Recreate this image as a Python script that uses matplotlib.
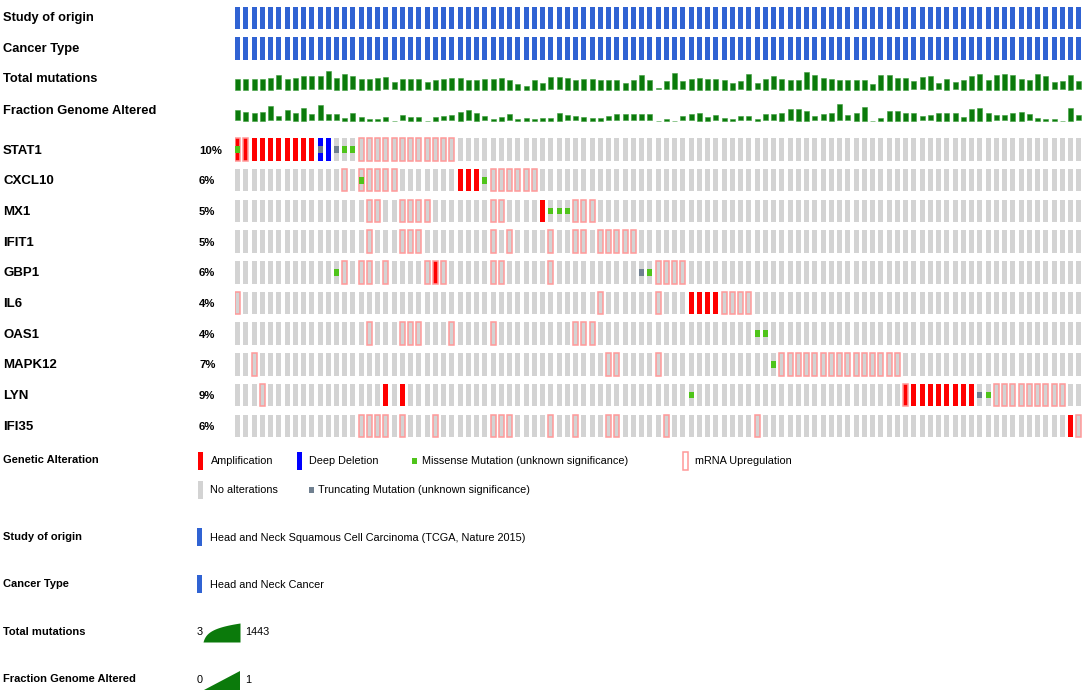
import matplotlib
matplotlib.use("Agg")
from matplotlib import pyplot as plt
from matplotlib import patches as patches
from matplotlib import font_manager
import numpy as np

plt.rcParams['font.family'] = ['Liberation Sans', 'DejaVu Sans']

genes = ["STAT1", "CXCL10", "MX1", "IFIT1", "GBP1", "IL6", "OAS1", "MAPK12", "LYN", "IFI35"]
percents = ["10%", "6%", "5%", "5%", "6%", "4%", "4%", "7%", "9%", "6%"]
n_samples = 103

# sample columns carrying each alteration, per gene
amplification = {
    "STAT1": [0, 1, 2, 3, 4, 5, 6, 7, 8, 9],
    "CXCL10": [27, 28, 29],
    "MX1": [37],
    "GBP1": [24],
    "IL6": [55, 56, 57, 58],
    "LYN": [18, 20, 81, 82, 83, 84, 85, 86, 87, 88, 89],
    "IFI35": [101],
}
deep_deletion = {
    "STAT1": [10, 11],
}
missense = {
    "STAT1": [0, 13, 14],
    "CXCL10": [15, 30],
    "MX1": [38, 39, 40],
    "GBP1": [12, 50],
    "OAS1": [63, 64],
    "MAPK12": [65],
    "LYN": [55, 91],
}
truncating = {
    "STAT1": [10, 12],
    "GBP1": [49],
    "LYN": [90],
}
mrna_up = {
    "STAT1": [0, 1, 15, 16, 17, 18, 19, 20, 21, 22, 23, 24, 25, 26],
    "CXCL10": [13, 15, 16, 17, 18, 19, 31, 32, 33, 34, 35, 36],
    "MX1": [16, 17, 20, 21, 22, 23, 31, 32, 41, 42, 43],
    "IFIT1": [16, 20, 21, 22, 31, 33, 38, 41, 42, 44, 45, 46, 47, 48],
    "GBP1": [13, 15, 16, 18, 23, 24, 25, 31, 32, 38, 51, 52, 53, 54],
    "IL6": [0, 44, 51, 59, 60, 61, 62],
    "OAS1": [16, 20, 21, 22, 26, 31, 41, 42, 43],
    "MAPK12": [2, 45, 46, 51, 66, 67, 68, 69, 70, 71, 72, 73, 74, 75, 76, 77, 78, 79, 80],
    "LYN": [3, 81, 92, 93, 94, 95, 96, 97, 98, 99, 100],
    "IFI35": [15, 16, 17, 18, 20, 24, 31, 32, 33, 38, 41, 45, 46, 52, 63, 102],
}

# clinical tracks, bar height relative to track height
total_mutations = [
    0.55, 0.55, 0.55, 0.55, 0.60, 0.73, 0.55, 0.60, 0.68, 0.68, 0.68, 0.93, 0.60, 0.77, 0.68, 0.55, 0.55,
    0.60, 0.63, 0.38, 0.55, 0.55, 0.55, 0.38, 0.50, 0.55, 0.60, 0.60, 0.50, 0.50, 0.55, 0.55, 0.60, 0.50,
    0.27, 0.17, 0.50, 0.35, 0.63, 0.63, 0.60, 0.50, 0.55, 0.55, 0.50, 0.50, 0.50, 0.35, 0.47, 0.72, 0.50,
    0.08, 0.43, 0.83, 0.43, 0.55, 0.60, 0.55, 0.55, 0.47, 0.35, 0.43, 0.80, 0.33, 0.55, 0.68, 0.55, 0.50,
    0.47, 0.88, 0.72, 0.60, 0.55, 0.50, 0.50, 0.50, 0.50, 0.27, 0.72, 0.72, 0.60, 0.60, 0.43, 0.63, 0.67,
    0.33, 0.55, 0.38, 0.50, 0.67, 0.80, 0.50, 0.72, 0.77, 0.72, 0.55, 0.50, 0.80, 0.67, 0.38, 0.43, 0.72, 0.43,
]
fraction_genome_altered = [
    0.53, 0.45, 0.40, 0.45, 0.73, 0.23, 0.53, 0.40, 0.62, 0.33, 0.78, 0.33, 0.33, 0.12, 0.40, 0.17, 0.07,
    0.07, 0.17, 0.00, 0.28, 0.17, 0.17, 0.00, 0.17, 0.23, 0.28, 0.45, 0.53, 0.37, 0.23, 0.07, 0.17, 0.33,
    0.07, 0.12, 0.07, 0.12, 0.12, 0.37, 0.28, 0.23, 0.17, 0.12, 0.12, 0.23, 0.33, 0.33, 0.33, 0.33, 0.33,
    0.00, 0.07, 0.00, 0.23, 0.33, 0.40, 0.20, 0.28, 0.12, 0.07, 0.23, 0.23, 0.07, 0.33, 0.33, 0.40, 0.58,
    0.57, 0.50, 0.23, 0.33, 0.37, 0.83, 0.28, 0.37, 0.70, 0.00, 0.12, 0.50, 0.50, 0.40, 0.37, 0.23, 0.28,
    0.37, 0.40, 0.40, 0.20, 0.57, 0.62, 0.37, 0.28, 0.28, 0.37, 0.45, 0.33, 0.12, 0.07, 0.07, 0.00, 0.62, 0.28,
]

track_labels = ["Study of origin", "Cancer Type", "Total mutations", "Fraction Genome Altered"]
study_name = "Head and Neck Squamous Cell Carcinoma (TCGA, Nature 2015)"
cancer_name = "Head and Neck Cancer"
mut_range = ["3", "1443"]
fga_range = ["0", "1"]

# colours
GREY = "#d3d3d3"
RED = "#ff0000"
BLUE = "#0000ff"
MIS_GREEN = "#4fc41a"
TRUNC = "#708090"
PINK = "#ff9999"
STUDY_BLUE = "#3063d3"
TRACK_GREEN = "#0b7a0b"

available = {f.name for f in font_manager.fontManager.ttflist}
if "Liberation Sans Narrow" in available:
    legend_font = ["Liberation Sans Narrow", "Liberation Sans"]
    legend_size = 9.2
else:
    legend_font = ["Liberation Sans", "DejaVu Sans"]
    legend_size = 7.8

fig = plt.figure(figsize=(10.84, 6.93), dpi=100)
ax = fig.add_axes([0, 0, 1, 1])
ax.set_xlim(0, 1084)
ax.set_ylim(693, 0)
ax.axis("off")

# grid axes: x in sample columns, y in pixel rows
pitch = 8.25
axg = fig.add_axes([235 / 1084, 0, n_samples * pitch / 1084, 1])
axg.set_xlim(0, n_samples)
axg.set_ylim(693, 0)
axg.axis("off")

w = 5.0 / pitch
cols = np.arange(n_samples)
cell_h = 22.5

# clinical tracks
track_centres = [18, 48.5, 79, 110]
for k, lab in enumerate(track_labels):
    ax.text(3, track_centres[k] + 0.5, lab, ha="left", va="center", fontsize=9.3, weight="bold")

axg.bar(cols, cell_h, width=w, bottom=track_centres[0] - cell_h / 2, align="edge", color=STUDY_BLUE, lw=0)
axg.bar(cols, cell_h, width=w, bottom=track_centres[1] - cell_h / 2, align="edge", color=STUDY_BLUE, lw=0)

tm = np.array(total_mutations) * 20
axg.bar(cols, tm, width=w, bottom=89.5 - tm, align="edge", color=TRACK_GREEN, ec="#3f9f3f", lw=0.4)
fg = np.array(fraction_genome_altered) * 20
axg.bar(cols, fg, width=w, bottom=120.5 - fg, align="edge", color=TRACK_GREEN, ec="#3f9f3f", lw=0.4)

# gene rows
for k, g in enumerate(genes):
    yc = 149.5 + 30.7 * k
    top = yc - cell_h / 2
    ax.text(3, yc + 1, g, ha="left", va="center", fontsize=9.5, weight="bold")
    ax.text(199, yc + 1, percents[k], ha="left", va="center", fontsize=8.2, weight="bold")
    axg.bar(cols, cell_h, width=w, bottom=top, align="edge", color=GREY, lw=0)
    if g in amplification:
        axg.bar(amplification[g], cell_h, width=w, bottom=top, align="edge", color=RED, lw=0)
    if g in deep_deletion:
        axg.bar(deep_deletion[g], cell_h, width=w, bottom=top, align="edge", color=BLUE, lw=0)
    for c in mrna_up.get(g, []):
        axg.add_patch(patches.Rectangle((c, top), w, cell_h, fill=False, ec=PINK, lw=1.1))
    sq = cell_h * 0.3
    if g in missense:
        axg.bar(missense[g], sq, width=w, bottom=yc - sq / 2, align="edge", color=MIS_GREEN, lw=0)
    if g in truncating:
        axg.bar(truncating[g], sq, width=w, bottom=yc - sq / 2, align="edge", color=TRUNC, lw=0)

# genetic alteration legend
def swatch(x, y, color, fill=True):
    if fill:
        ax.add_patch(patches.Rectangle((x, y - 9), 5, 18, fc=color, ec="none"))
    else:
        ax.add_patch(patches.Rectangle((x, y - 9), 5, 18, fill=False, ec=color, lw=1.1))

def small(x, y, color):
    ax.add_patch(patches.Rectangle((x, y - 3), 5, 6, fc=color, ec="none"))

def ltext(x, y, s):
    ax.text(x, y, s, ha="left", va="center", fontsize=legend_size, family=legend_font)

ax.text(3, 460, "Genetic Alteration", ha="left", va="center", fontsize=8.0, weight="bold")
swatch(198, 461, RED)
ltext(211, 461, "Amplification")
swatch(297, 461, BLUE)
ltext(309, 461, "Deep Deletion")
small(412, 461, MIS_GREEN)
ltext(422, 461, "Missense Mutation (unknown significance)")
swatch(683, 461, PINK, fill=False)
ltext(695, 461, "mRNA Upregulation")
swatch(198, 490, GREY)
ltext(210, 490, "No alterations")
small(309, 490, TRUNC)
ltext(318, 490, "Truncating Mutation (unknown significance)")

# clinical legends
ax.text(3, 537, track_labels[0], ha="left", va="center", fontsize=8.0, weight="bold")
swatch(197, 537, STUDY_BLUE)
ltext(210, 538, study_name)

ax.text(3, 584, track_labels[1], ha="left", va="center", fontsize=8.0, weight="bold")
swatch(197, 584, STUDY_BLUE)
ltext(210, 585, cancer_name)

ax.text(3, 632, track_labels[2], ha="left", va="center", fontsize=8.0, weight="bold")
ltext(197, 632, mut_range[0])
t = np.linspace(0, 1, 60)
xs = 203 + 37 * t
curve = np.log1p(25 * t) / np.log1p(25)
ax.fill_between(xs, 642, 642 - 19 * curve, color=TRACK_GREEN, lw=0)
ltext(245, 632, mut_range[1])

ax.text(3, 679, track_labels[3], ha="left", va="center", fontsize=8.0, weight="bold")
ltext(197, 680, fga_range[0])
ax.add_patch(patches.Polygon([(204, 690), (240, 690), (240, 671)], closed=True, fc=TRACK_GREEN, ec="none"))
ltext(245, 680, fga_range[1])

fig.savefig("out.png", dpi=100)
